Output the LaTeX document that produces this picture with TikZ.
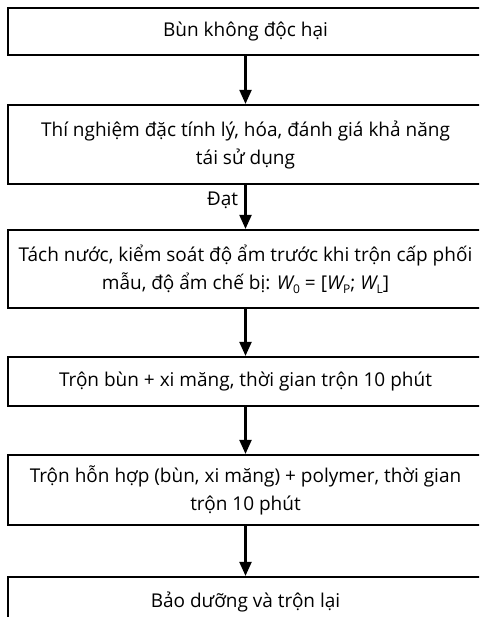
\documentclass[tikz,border=0pt]{standalone}
\usepackage{fontspec}
\setmainfont{Open Sans}
\usetikzlibrary{arrows.meta}
\newcommand{\mysub}[1]{\raisebox{-4pt}{\fontsize{12}{12}\selectfont #1}}
\tikzset{
  box/.style={draw, line width=2.2pt, rectangle, minimum width=475pt, align=center, inner sep=0pt, font=\fontsize{19}{28}\selectfont},
  flow/.style={line width=2.1pt, -{Triangle[width=12pt,length=14pt]}},
}
\begin{document}
\begin{tikzpicture}[x=1pt,y=1pt]
\useasboundingbox (0,0) rectangle (479,-617);
\clip (0,0) rectangle (479,-617);
\node[box, minimum height=47pt] (b1) at (245.5,-31.5) {Bùn không độc hại};
\node[box, minimum height=79pt] (b2) at (245.5,-144.5) {Thí nghiệm đặc tính lý, hóa, đánh giá khả năng\\tái sử dụng};
\node[box, minimum height=78pt] (b3) at (245.5,-269) {Tách nước, kiểm soát độ ẩm trước khi trộn cấp phối\\mẫu, độ ẩm chế bị: {\itshape W}\mysub{0} = [{\itshape W}\mysub{P}; {\itshape W}\mysub{L}]};
\node[box, minimum height=49pt] (b4) at (245.5,-381.5) {Trộn bùn + xi măng, thời gian trộn 10 phút};
\node[box, minimum height=70pt] (b5) at (245.5,-490) {Trộn hỗn hợp (bùn, xi măng) + polymer, thời gian\\trộn 10 phút};
\node[box, minimum height=50pt] (b6) at (245.5,-602) {Bảo dưỡng và trộn lại};
\draw[flow] (b1) -- (b2);
\draw[flow] (b2) -- node[pos=0.35, left=3pt, font=\fontsize{19}{22}\selectfont] (lbl) {Đạt} (b3);
\draw[flow] (b3) -- (b4);
\draw[flow] (b4) -- (b5);
\draw[flow] (b5) -- (b6);
\end{tikzpicture}
\end{document}
